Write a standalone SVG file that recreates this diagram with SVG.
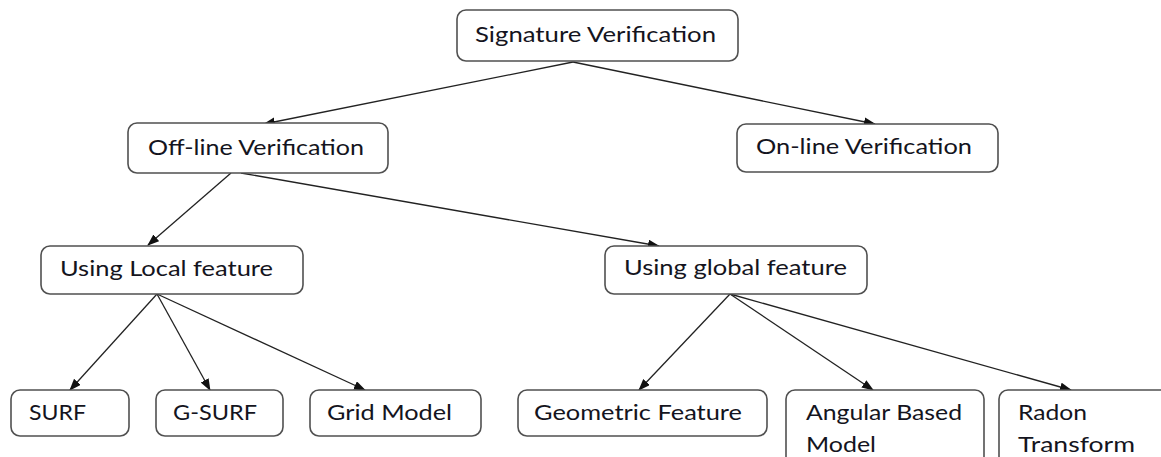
<svg xmlns="http://www.w3.org/2000/svg" width="1161" height="457" viewBox="0 0 1161 457">
<style>
.box{fill:#fff;stroke:#505050;stroke-width:1.6}
.lbl{font-family:Lato,"Open Sans","Liberation Sans",sans-serif;font-size:21px;fill:#141420}
.edge{stroke:#222;stroke-width:1.3;fill:none;marker-end:url(#ah)}
</style>
<defs>
<marker id="ah" markerUnits="userSpaceOnUse" markerWidth="12" markerHeight="10" refX="11" refY="4.5" orient="auto">
<path d="M0,0 L12,4.5 L0,9 z" fill="#111"/>
</marker>
</defs>
<rect width="1161" height="457" fill="#fff"/>
<g id="connectors">
<line class="edge" x1="573" y1="62" x2="264" y2="124"/>
<line class="edge" x1="573" y1="62" x2="875" y2="124"/>
<line class="edge" x1="231" y1="173" x2="148" y2="245"/>
<line class="edge" x1="241" y1="173" x2="659" y2="246"/>
<line class="edge" x1="157" y1="294" x2="70" y2="390"/>
<line class="edge" x1="157" y1="294" x2="210" y2="390"/>
<line class="edge" x1="157" y1="294" x2="365" y2="390"/>
<line class="edge" x1="730" y1="294" x2="639" y2="390"/>
<line class="edge" x1="730" y1="294" x2="873" y2="390"/>
<line class="edge" x1="730" y1="294" x2="1071" y2="390"/>
</g>
<g id="n-signature"><rect class="box" x="457" y="10" width="281" height="51" rx="9"/><text class="lbl" x="475" y="42" textLength="241" lengthAdjust="spacingAndGlyphs">Signature Verification</text></g>
<g id="n-offline"><rect class="box" x="128" y="123" width="260" height="50" rx="9"/><text class="lbl" x="148" y="155" textLength="216" lengthAdjust="spacingAndGlyphs">Off-line Verification</text></g>
<g id="n-online"><rect class="box" x="737" y="124" width="261" height="48" rx="9"/><text class="lbl" x="756" y="154" textLength="216" lengthAdjust="spacingAndGlyphs">On-line Verification</text></g>
<g id="n-local"><rect class="box" x="41" y="246" width="262" height="48" rx="9"/><text class="lbl" x="60" y="276" textLength="213" lengthAdjust="spacingAndGlyphs">Using Local feature</text></g>
<g id="n-global"><rect class="box" x="605" y="246" width="262" height="48" rx="9"/><text class="lbl" x="624" y="275" textLength="223" lengthAdjust="spacingAndGlyphs">Using global feature</text></g>
<g id="n-surf"><rect class="box" x="11" y="390" width="118" height="46" rx="9"/><text class="lbl" x="29" y="420" textLength="57" lengthAdjust="spacingAndGlyphs">SURF</text></g>
<g id="n-gsurf"><rect class="box" x="156" y="390" width="127" height="46" rx="9"/><text class="lbl" x="173" y="420" textLength="84" lengthAdjust="spacingAndGlyphs">G-SURF</text></g>
<g id="n-grid"><rect class="box" x="310" y="390" width="171" height="46" rx="9"/><text class="lbl" x="327" y="420" textLength="125" lengthAdjust="spacingAndGlyphs">Grid Model</text></g>
<g id="n-geometric"><rect class="box" x="518" y="390" width="249" height="46" rx="9"/><text class="lbl" x="534" y="420" textLength="208" lengthAdjust="spacingAndGlyphs">Geometric Feature</text></g>
<g id="n-angular"><rect class="box" x="786" y="390" width="198" height="80" rx="9"/><text class="lbl" x="806" y="420" textLength="156" lengthAdjust="spacingAndGlyphs">Angular Based</text><text class="lbl" x="806" y="452" textLength="70" lengthAdjust="spacingAndGlyphs">Model</text></g>
<g id="n-radon"><rect class="box" x="999" y="390" width="180" height="80" rx="9"/><text class="lbl" x="1018" y="420" textLength="69" lengthAdjust="spacingAndGlyphs">Radon</text><text class="lbl" x="1018" y="452" textLength="117" lengthAdjust="spacingAndGlyphs">Transform</text></g>
</svg>
